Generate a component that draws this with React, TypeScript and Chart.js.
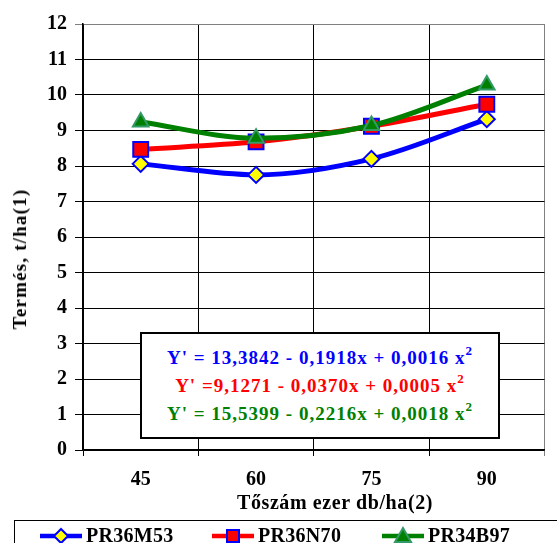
import React, { useEffect, useRef } from "react";
import { Chart, registerables } from "chart.js";

Chart.register(...registerables);

const categories = ["45", "60", "75", "90"];
const seriesNames = ["PR36M53", "PR36N70", "PR34B97"];
const pr36m53 = [8.06, 7.75, 8.2, 9.32];
const pr36n70 = [8.47, 8.68, 9.12, 9.74];
const pr34b97 = [9.24, 8.78, 9.14, 10.28];
const equations = [
  "Y' = 13,3842 - 0,1918x + 0,0016 x",
  "Y' =9,1271 - 0,0370x + 0,0005 x",
  "Y' = 15,5399 - 0,2216x + 0,0018 x",
];
const yTitle = "Termés, t/ha(1)";
const xTitle = "Tőszám ezer db/ha(2)";

const FONT = '"Liberation Serif", "Times New Roman", serif';
const BLUE = "#0000FF";
const RED = "#FF0000";
const GREEN = "#008000";

export default function App() {
  const ref = useRef<HTMLCanvasElement | null>(null);

  useEffect(() => {
    document.body.style.margin = "0";
    const canvas = ref.current;
    if (!canvas) return;
    const chart = new Chart(canvas, {
      type: "line",
      data: {
        labels: categories,
        datasets: [
          {
            label: seriesNames[0],
            data: pr36m53,
            borderColor: BLUE,
            backgroundColor: "#FFFF00",
            borderWidth: 5,
            pointStyle: "rectRot",
            pointRadius: 8,
            pointBorderColor: BLUE,
            pointBackgroundColor: "#FFFF00",
            pointBorderWidth: 2,
            cubicInterpolationMode: "monotone",
            order: 3,
          },
          {
            label: seriesNames[1],
            data: pr36n70,
            borderColor: RED,
            backgroundColor: RED,
            borderWidth: 5,
            pointStyle: "rect",
            pointRadius: 10.5,
            pointBorderColor: BLUE,
            pointBackgroundColor: RED,
            pointBorderWidth: 2,
            cubicInterpolationMode: "monotone",
            order: 2,
          },
          {
            label: seriesNames[2],
            data: pr34b97,
            borderColor: GREEN,
            backgroundColor: GREEN,
            borderWidth: 5,
            pointStyle: "triangle",
            pointRadius: 9,
            pointBorderColor: "#339966",
            pointBackgroundColor: GREEN,
            pointBorderWidth: 2,
            cubicInterpolationMode: "monotone",
            order: 1,
          },
        ],
      },
      options: {
        animation: false,
        responsive: false,
        maintainAspectRatio: false,
        layout: { padding: { left: 0, top: 24, right: 8, bottom: 53 } },
        plugins: {
          legend: { display: false },
          tooltip: { enabled: false },
        },
        scales: {
          x: {
            type: "category",
            offset: true,
            grid: {
              offset: true,
              color: (ctx: any) => (ctx.index === undefined || ctx.index >= categories.length ? "#808080" : "#000000"),
              lineWidth: 1,
              tickLength: 6,
              drawTicks: true,
            },
            border: { color: "#000000", width: 1.5 },
            ticks: {
              color: "#000000",
              padding: 12,
              font: { family: FONT, size: 20, weight: "bold" },
              maxRotation: 0,
            },
            afterFit: (scale: any) => {
              scale.height = 40;
            },
          },
          y: {
            min: 0,
            max: 12,
            grid: {
              color: (ctx: any) => (ctx.tick && ctx.tick.value === 12 ? "#808080" : "#000000"),
              lineWidth: 1,
              tickLength: 8,
            },
            border: { color: "#000000", width: 1.5 },
            ticks: {
              stepSize: 1,
              color: "#000000",
              padding: 8,
              font: { family: FONT, size: 20, weight: "bold" },
            },
            afterFit: (scale: any) => {
              scale.width = 83;
            },
          },
        },
      },
    });
    return () => chart.destroy();
  }, []);

  const legendIcon = (i: number) => {
    const line = [BLUE, RED, GREEN][i];
    let marker: React.ReactNode = null;
    if (i === 0)
      marker = <polygon points="21,3 28,10 21,17 14,10" fill="#FFFF00" stroke={BLUE} strokeWidth={2} />;
    if (i === 1) marker = <rect x={15} y={4} width={12} height={12} fill={RED} stroke={BLUE} strokeWidth={2} />;
    if (i === 2) marker = <polygon points="21,2 29,16 13,16" fill={GREEN} stroke="#339966" strokeWidth={2} />;
    return (
      <svg width={42} height={20} style={{ display: "block" }}>
        <line x1={0} y1={10} x2={42} y2={10} stroke={line} strokeWidth={4.5} strokeLinecap="round" />
        {marker}
      </svg>
    );
  };

  const eqColors = [BLUE, RED, GREEN];
  const legendX = [40, 212, 382];

  return (
    <div
      style={{
        position: "fixed",
        left: 0,
        top: 0,
        width: 557,
        height: 543,
        background: "#ffffff",
        overflow: "hidden",
        fontFamily: FONT,
      }}
    >
      <canvas ref={ref} width={557} height={543} style={{ position: "absolute", left: 0, top: 0 }} />
      <div
        style={{
          position: "absolute",
          left: 20,
          top: 259,
          transform: "translate(-50%, -50%) rotate(-90deg)",
          whiteSpace: "nowrap",
          fontWeight: "bold",
          fontSize: 19,
          letterSpacing: 1.2,
        }}
      >
        {yTitle}
      </div>
      <div
        style={{
          position: "absolute",
          left: 335,
          top: 502,
          transform: "translate(-50%, -50%)",
          whiteSpace: "nowrap",
          fontWeight: "bold",
          fontSize: 20,
          letterSpacing: 0.6,
        }}
      >
        {xTitle}
      </div>
      <div
        style={{
          position: "absolute",
          left: 140,
          top: 332,
          width: 360,
          height: 107,
          boxSizing: "border-box",
          border: "2.5px solid #000",
          background: "#fff",
          display: "flex",
          flexDirection: "column",
          justifyContent: "center",
          alignItems: "center",
          fontWeight: "bold",
          fontSize: 19,
          lineHeight: "28px",
        }}
      >
        {equations.map((eq, i) => (
          <div key={i} style={{ color: eqColors[i], whiteSpace: "nowrap", letterSpacing: 1 }}>
            {eq}
            <sup style={{ fontSize: 13, verticalAlign: "top", lineHeight: "14px" }}>2</sup>
          </div>
        ))}
      </div>
      <div
        style={{
          position: "absolute",
          left: 14,
          top: 520,
          width: 600,
          height: 40,
          boxSizing: "border-box",
          border: "1.5px solid #000",
          borderBottom: "none",
          borderRight: "none",
        }}
      />
      {seriesNames.map((name, i) => (
        <div
          key={name}
          style={{
            position: "absolute",
            left: legendX[i],
            top: 524,
            display: "flex",
            alignItems: "center",
            whiteSpace: "nowrap",
            fontWeight: "bold",
            fontSize: 20,
            letterSpacing: 0.3,
          }}
        >
          {legendIcon(i)}
          <span style={{ marginLeft: 4 }}>{name}</span>
        </div>
      ))}
    </div>
  );
}
